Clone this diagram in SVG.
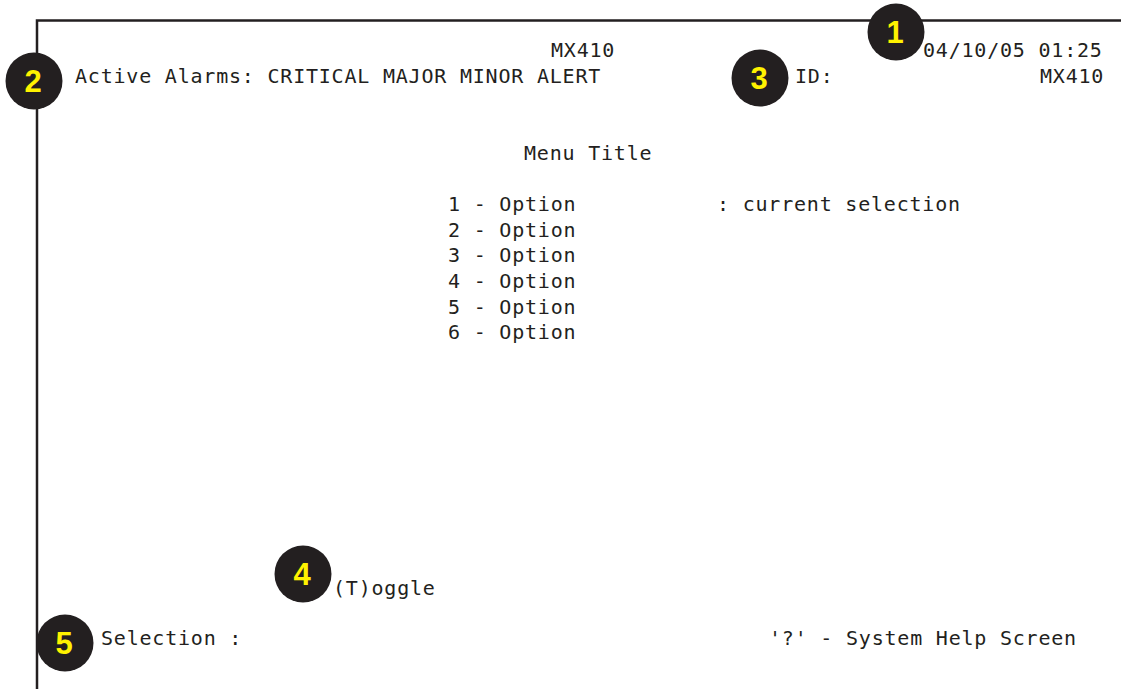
<svg xmlns="http://www.w3.org/2000/svg" width="1121" height="689" viewBox="0 0 1121 689">
<style>
.t{font-family:"DejaVu Sans Mono","Liberation Mono",monospace;font-size:20px;letter-spacing:0.79px;fill:#231f20}
.c{fill:#231f20}
.n{font-family:"Liberation Sans",Arial,sans-serif;font-weight:bold;font-size:31px;fill:#fff200;text-anchor:middle}
</style>
<rect width="1121" height="689" fill="#fff"/>
<g id="frame">
<path d="M37 689 V20.5 H1121" fill="none" stroke="#231f20" stroke-width="2.5"/>
</g>
<g id="screen-text">
<text class="t" x="551" y="57">MX410</text>
<text class="t" x="923" y="57">04/10/05 01:25</text>
<text class="t" x="75" y="83">Active Alarms: CRITICAL MAJOR MINOR ALERT</text>
<text class="t" x="795" y="83">ID:</text>
<text class="t" x="1040" y="83">MX410</text>
<text class="t" x="524" y="160">Menu Title</text>
<text class="t" x="448" y="211">1 - Option</text>
<text class="t" x="717" y="211">: current selection</text>
<text class="t" x="448" y="237">2 - Option</text>
<text class="t" x="448" y="262">3 - Option</text>
<text class="t" x="448" y="288">4 - Option</text>
<text class="t" x="448" y="314">5 - Option</text>
<text class="t" x="448" y="339">6 - Option</text>
<text class="t" x="333" y="595">(T)oggle</text>
<text class="t" x="101" y="645">Selection :</text>
<text class="t" x="769" y="645">'?' - System Help Screen</text>
</g>
<g id="callout-1"><circle class="c" cx="896" cy="32" r="28.5"/><text class="n" x="895" y="43">1</text></g>
<g id="callout-2"><circle class="c" cx="34" cy="81" r="28.5"/><text class="n" x="33" y="92">2</text></g>
<g id="callout-3"><circle class="c" cx="760" cy="78" r="28.5"/><text class="n" x="759" y="89">3</text></g>
<g id="callout-4"><circle class="c" cx="303" cy="574" r="28.5"/><text class="n" x="302" y="585">4</text></g>
<g id="callout-5"><circle class="c" cx="65" cy="643" r="28.5"/><text class="n" x="64" y="654">5</text></g>
</svg>
